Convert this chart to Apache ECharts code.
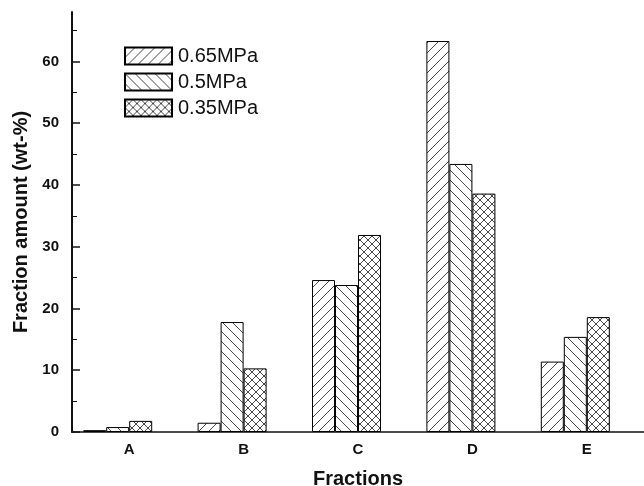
<!DOCTYPE html>
<html>
<head>
<meta charset="utf-8">
<script src="https://cdn.jsdelivr.net/npm/echarts@6/dist/echarts.min.js"></script>
<style>html,body{margin:0;padding:0;background:#fff}#c{width:644px;height:486px}</style>
</head>
<body>
<div id="c"></div>
<script>
const categories = ['A', 'B', 'C', 'D', 'E'];
const seriesNames = ['0.65MPa', '0.5MPa', '0.35MPa'];
const p065 = [0.3, 1.5, 24.6, 63.3, 11.4];
const p050 = [0.8, 17.8, 23.8, 43.4, 15.4];
const p035 = [1.8, 10.3, 31.9, 38.6, 18.6];
const yMajorTicks = [0, 10, 20, 30, 40, 50, 60];
const yMinorTicks = [5, 15, 25, 35, 45, 55, 65];

function pattern(kind) {
  const s = kind === 'cross' ? 8 : 10;
  const c = document.createElement('canvas');
  c.width = s; c.height = s;
  const g = c.getContext('2d');
  g.fillStyle = '#fff'; g.fillRect(0, 0, s, s);
  g.strokeStyle = '#333'; g.lineWidth = 0.9;
  function fwd() { g.beginPath(); g.moveTo(-1, s + 1); g.lineTo(s + 1, -1); g.stroke(); }
  function back() { g.beginPath(); g.moveTo(-1, -1); g.lineTo(s + 1, s + 1); g.stroke(); }
  if (kind === 'fwd') fwd();
  else if (kind === 'back') back();
  else { fwd(); back(); }
  return { image: c, repeat: 'repeat' };
}

const FONT = 'Liberation Sans, Arial, sans-serif';
const chart = echarts.init(document.getElementById('c'), null, { renderer: 'canvas' });
const barStyle = (k) => ({ color: pattern(k), borderColor: '#000', borderWidth: 1 });
chart.setOption({
  animation: false,
  backgroundColor: '#fff',
  grid: { left: 72, right: 0, top: 12, bottom: 54, containLabel: false, outerBoundsMode: 'none' },
  legend: {
    data: seriesNames,
    orient: 'vertical',
    left: 124, top: 46, padding: 0,
    itemWidth: 47, itemHeight: 17, itemGap: 6,
    icon: 'rect',
    textStyle: { fontFamily: FONT, fontSize: 20, color: '#111', padding: [0, 0, 0, 1] }
  },
  xAxis: {
    type: 'category',
    data: categories,
    name: 'Fractions',
    nameLocation: 'middle',
    nameGap: 37,
    nameTextStyle: { fontFamily: FONT, fontWeight: 'bold', fontSize: 20, color: '#111' },
    axisLine: { lineStyle: { color: '#111', width: 1.5 } },
    axisTick: { show: false },
    axisLabel: { fontFamily: FONT, fontWeight: 'bold', fontSize: 15, color: '#111', margin: 10 },
    splitLine: { show: false }
  },
  yAxis: [{
    type: 'value',
    min: 0, max: 68, interval: 10,
    name: 'Fraction amount (wt-%)',
    nameLocation: 'middle',
    nameGap: 36,
    nameTextStyle: { fontFamily: FONT, fontWeight: 'bold', fontSize: 20, color: '#111' },
    axisLine: { show: true, lineStyle: { color: '#111', width: 2 } },
    axisTick: { show: true, inside: true, length: 8, customValues: yMajorTicks, lineStyle: { color: '#111', width: 1.5 } },
    axisLabel: { fontFamily: FONT, fontWeight: 'bold', fontSize: 15, color: '#111', margin: 13, customValues: yMajorTicks },
    splitLine: { show: false }
  }, {
    type: 'value',
    position: 'left',
    min: 0, max: 68, interval: 5,
    axisLine: { show: false },
    axisTick: { show: true, inside: true, length: 5, customValues: yMinorTicks, lineStyle: { color: '#111', width: 1 } },
    axisLabel: { show: false },
    splitLine: { show: false }
  }],
  series: [
    { name: seriesNames[0], type: 'bar', data: p065, barWidth: 23, barGap: '0%', itemStyle: barStyle('fwd') },
    { name: seriesNames[1], type: 'bar', data: p050, barWidth: 23, barGap: '0%', itemStyle: barStyle('back') },
    { name: seriesNames[2], type: 'bar', data: p035, barWidth: 23, barGap: '0%', itemStyle: barStyle('cross') },
    { name: 'spacer', type: 'bar', data: categories.map(() => null), barWidth: 23, barGap: '0%', silent: true }
  ]
});
</script>
</body>
</html>
